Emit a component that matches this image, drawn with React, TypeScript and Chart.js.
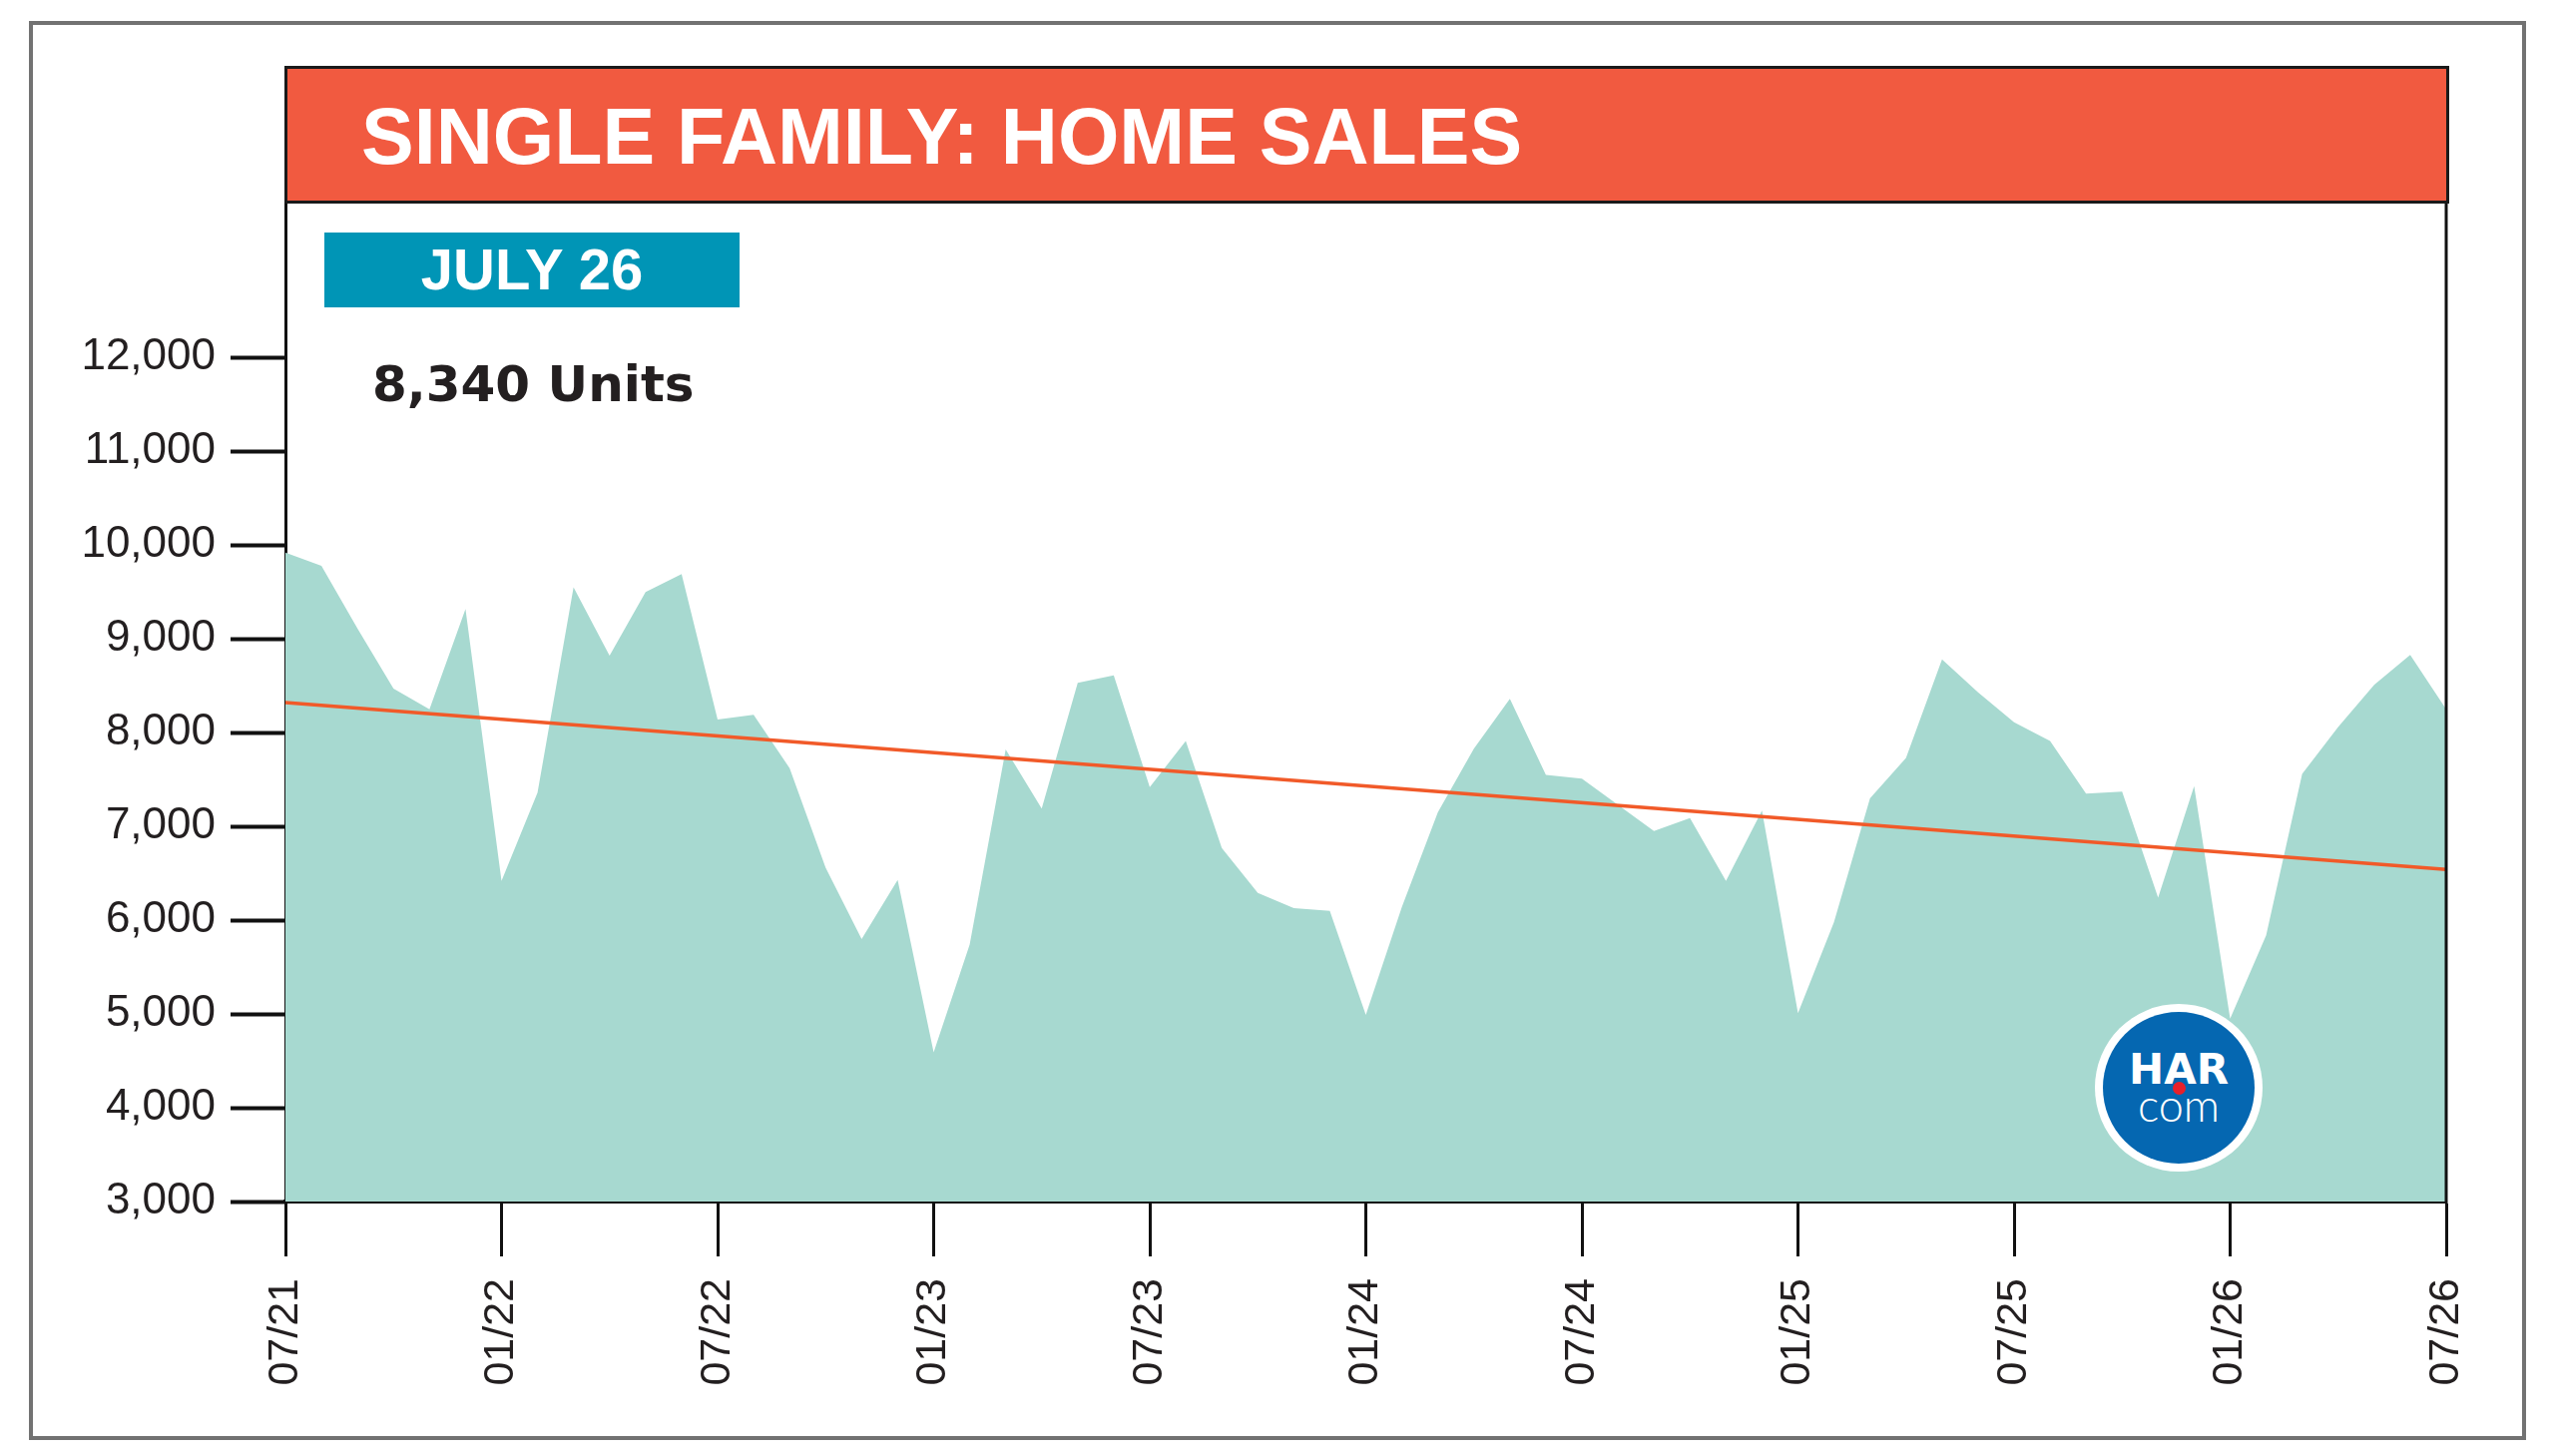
import React, { useEffect, useRef } from "react";
import { Chart, registerables } from "chart.js";

Chart.register(...registerables);

const months: string[] = [
  "07/21", "08/21", "09/21", "10/21", "11/21", "12/21",
  "01/22", "02/22", "03/22", "04/22", "05/22", "06/22",
  "07/22", "08/22", "09/22", "10/22", "11/22", "12/22",
  "01/23", "02/23", "03/23", "04/23", "05/23", "06/23",
  "07/23", "08/23", "09/23", "10/23", "11/23", "12/23",
  "01/24", "02/24", "03/24", "04/24", "05/24", "06/24",
  "07/24", "08/24", "09/24", "10/24", "11/24", "12/24",
  "01/25", "02/25", "03/25", "04/25", "05/25", "06/25",
  "07/25", "08/25", "09/25", "10/25", "11/25", "12/25",
  "01/26", "02/26", "03/26", "04/26", "05/26", "06/26",
  "07/26",
];

const homeSales: number[] = [
  9920, 9780, 9110, 8470, 8250, 9320,
  6420, 7360, 9550, 8820, 9500, 9690,
  8140, 8190, 7620, 6560, 5800, 6430,
  4590, 5740, 7820, 7190, 8530, 8610,
  7420, 7910, 6770, 6290, 6130, 6100,
  4990, 6140, 7150, 7830, 8360, 7550,
  7510, 7230, 6950, 7090, 6420, 7170,
  5010, 5980, 7300, 7730, 8780, 8430,
  8110, 7910, 7350, 7370, 6240, 7430,
  4950, 5840, 7560, 8060, 8510, 8830,
  8250,
];

const trendStart = 8320;
const trendEnd = 6540;

const yTickValues: number[] = [3000, 4000, 5000, 6000, 7000, 8000, 9000, 10000, 11000, 12000];
const yMin = 3000;
const yMax = 15100;

const titleText = "SINGLE FAMILY: HOME SALES";
const monthText = "JULY 26";
const unitsText = "8,340 Units";

const labelStep = 6;

const frameRight = {
  id: "frameRight",
  afterDraw(chart: any) {
    const { ctx, chartArea } = chart;
    ctx.save();
    ctx.strokeStyle = "#111111";
    ctx.lineWidth = 3;
    ctx.beginPath();
    ctx.moveTo(chartArea.right, chartArea.top);
    ctx.lineTo(chartArea.right, chartArea.bottom + 2);
    ctx.stroke();
    ctx.restore();
  },
};

export default function App() {
  const canvasRef = useRef<HTMLCanvasElement | null>(null);

  useEffect(() => {
    if (!canvasRef.current) return;
    const chart = new Chart(canvasRef.current, {
      type: "line",
      data: {
        labels: months,
        datasets: [
          {
            label: "Trend",
            data: [
              { x: months[0], y: trendStart },
              { x: months[months.length - 1], y: trendEnd },
            ] as any,
            borderColor: "#F15A29",
            borderWidth: 3.5,
            pointRadius: 0,
            fill: false,
            tension: 0,
          },
          {
            label: "Home Sales",
            data: homeSales,
            borderWidth: 0,
            borderColor: "rgba(0,0,0,0)",
            backgroundColor: "#A7D9D0",
            pointRadius: 0,
            fill: "start",
            tension: 0,
          },
        ],
      },
      plugins: [frameRight],
      options: {
        animation: false,
        responsive: true,
        maintainAspectRatio: false,
        layout: { padding: { top: 67, right: 109, bottom: 0, left: 0 } },
        plugins: {
          legend: { display: false },
          tooltip: { enabled: false },
          title: { display: false },
        },
        scales: {
          x: {
            type: "category",
            offset: false,
            border: { display: true, color: "#111111", width: 4 },
            grid: {
              drawOnChartArea: false,
              drawTicks: true,
              tickLength: 55,
              tickWidth: (ctx: any) => (ctx.index % labelStep === 0 ? 3 : 0),
              tickColor: (ctx: any) => (ctx.index % labelStep === 0 ? "#111111" : "rgba(0,0,0,0)"),
            },
            ticks: {
              autoSkip: false,
              minRotation: 90,
              maxRotation: 90,
              padding: 22,
              color: "#231F20",
              font: { family: "'Liberation Sans', Arial, sans-serif", size: 43 },
              callback: (_v: any, idx: number) => (idx % labelStep === 0 ? months[idx] : ""),
            },
            afterFit: (axis: any) => {
              axis.height = 255;
            },
          },
          y: {
            type: "linear",
            min: yMin,
            max: yMax,
            border: { display: true, color: "#111111", width: 3 },
            grid: {
              drawOnChartArea: false,
              drawTicks: true,
              tickLength: 55,
              tickWidth: 4,
              tickColor: "#111111",
            },
            ticks: {
              padding: 15,
              color: "#231F20",
              font: { family: "'Liberation Sans', Arial, sans-serif", size: 44 },
              callback: (v: any) => Number(v).toLocaleString("en-US"),
            },
            afterBuildTicks: (axis: any) => {
              axis.ticks = yTickValues.map((v) => ({ value: v }));
            },
            afterFit: (axis: any) => {
              axis.width = 286;
            },
          },
        },
      },
    });
    return () => chart.destroy();
  }, []);

  const abs: React.CSSProperties = { position: "absolute", margin: 0, whiteSpace: "nowrap" };

  return (
    <div
      style={{
        position: "absolute",
        left: 0,
        top: 0,
        width: 2560,
        height: 1459,
        background: "#ffffff",
        overflow: "hidden",
      }}
    >
      <div
        style={{
          ...abs,
          left: 29,
          top: 21,
          width: 2502,
          height: 1422,
          border: "4px solid #727272",
          boxSizing: "border-box",
        }}
      />
      <div style={{ position: "absolute", left: 0, top: 0, width: 2560, height: 1459 }}>
        <canvas ref={canvasRef} />
      </div>

      {/* header */}
      <div
        style={{
          ...abs,
          left: 285,
          top: 66,
          width: 2169,
          height: 138,
          background: "#F15A40",
          border: "3px solid #1a1a1a",
          boxSizing: "border-box",
        }}
      />
      <div
        style={{
          ...abs,
          left: 362,
          top: 97,
          fontFamily: "'Liberation Sans', Arial, sans-serif",
          fontWeight: 700,
          fontSize: 79,
          lineHeight: "79px",
          color: "#ffffff",
        }}
      >
        {titleText}
      </div>

      {/* month badge */}
      <div
        style={{
          ...abs,
          left: 325,
          top: 233,
          width: 416,
          height: 75,
          background: "#0095B6",
        }}
      />
      <div
        style={{
          ...abs,
          left: 325,
          top: 241,
          width: 416,
          textAlign: "center",
          fontFamily: "'Liberation Sans', Arial, sans-serif",
          fontWeight: 700,
          fontSize: 58,
          lineHeight: "58px",
          color: "#ffffff",
        }}
      >
        {monthText}
      </div>

      {/* units */}
      <div
        style={{
          ...abs,
          left: 373,
          top: 360,
          fontFamily: "'DejaVu Sans', sans-serif",
          fontWeight: 700,
          fontSize: 50,
          lineHeight: "50px",
          color: "#231F20",
        }}
      >
        {unitsText}
      </div>

      {/* HAR logo */}
      <div
        style={{
          ...abs,
          left: 2099,
          top: 1006,
          width: 168,
          height: 168,
          borderRadius: "50%",
          background: "#ffffff",
        }}
      />
      <div
        style={{
          ...abs,
          left: 2107,
          top: 1014,
          width: 152,
          height: 152,
          borderRadius: "50%",
          background: "#0567B1",
        }}
      />
      <div
        style={{
          ...abs,
          left: 2099,
          top: 1051,
          width: 168,
          textAlign: "center",
          fontFamily: "'DejaVu Sans', sans-serif",
          fontWeight: 700,
          fontSize: 42,
          lineHeight: "42px",
          color: "#ffffff",
        }}
      >
        HAR
      </div>
      <div
        style={{
          ...abs,
          left: 2099,
          top: 1085,
          width: 168,
          textAlign: "center",
          fontFamily: "Lato, 'Open Sans', sans-serif",
          fontWeight: 300,
          fontSize: 45,
          lineHeight: "45px",
          color: "#ffffff",
        }}
      >
        com
      </div>
      <div
        style={{
          ...abs,
          left: 2177,
          top: 1084,
          width: 13,
          height: 13,
          borderRadius: "50%",
          background: "#E8202A",
        }}
      />
    </div>
  );
}
